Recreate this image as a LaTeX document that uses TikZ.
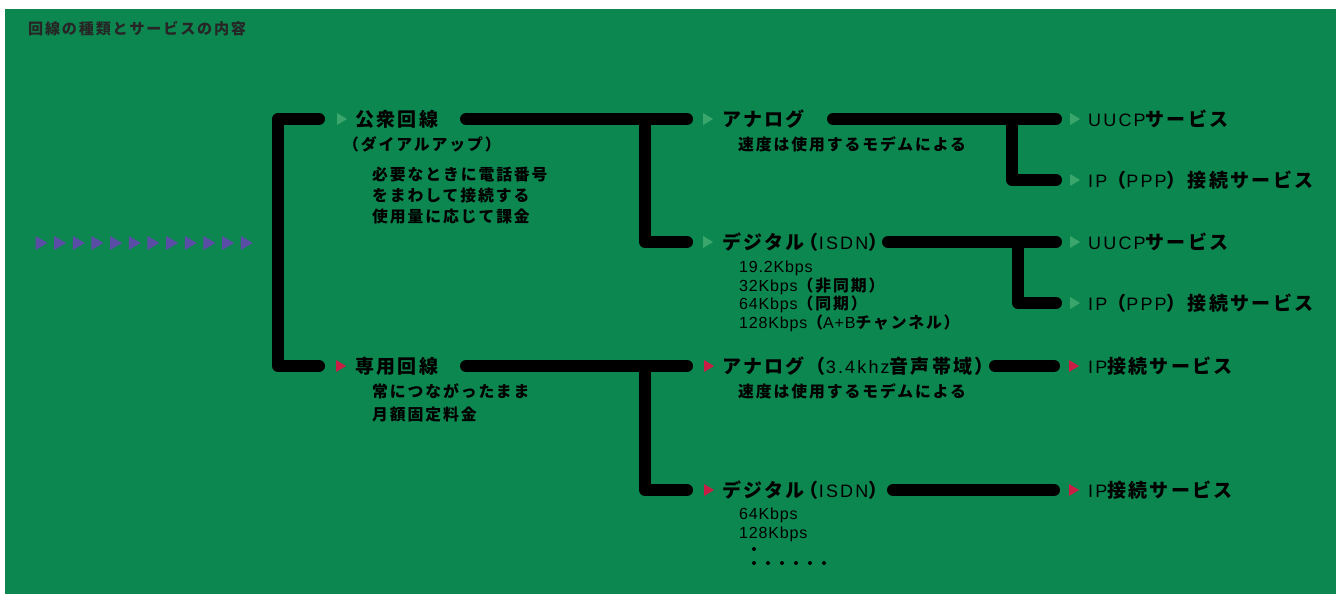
\documentclass[tikz,border=0pt]{standalone}
\usepackage{fontspec}
\setmainfont{Liberation Sans}[LetterSpace=12]
\newfontfamily\subl{Liberation Sans}[LetterSpace=5,Scale=1.07]
\newfontfamily\jpf{Noto Sans CJK JP}[LetterSpace=12,Scale=1.055]
\newcommand\jb[1]{{\jpf\bfseries #1}}
\definecolor{bg}{HTML}{0D8750}
\definecolor{mkg}{HTML}{3AA66B}
\definecolor{mkr}{HTML}{C81E45}
\definecolor{mkp}{HTML}{5A4DA6}
\definecolor{ttl}{HTML}{262626}
\begin{document}
\begin{tikzpicture}[x=1pt,y=-1pt,
  wire/.style={line width=12pt,line cap=round,line join=round},
  lbl/.style={anchor=west,inner sep=0pt,font=\fontsize{18}{20}\selectfont},
  sub/.style={anchor=west,inner sep=0pt,font=\subl\fontsize{15}{17}\selectfont},
  pics/tri/.style={code={\fill[#1] (0,-6) -- (10,0) -- (0,6) -- cycle;}},
  pics/ptri/.style={code={\fill[#1] (0,-7) -- (12,0) -- (0,7) -- cycle;}},
]
\fill[white] (0,0) rectangle (1337,594);
\fill[bg] (5,9) rectangle (1336,594);
\useasboundingbox (0,0) rectangle (1337,594);

% title
\node[anchor=west,inner sep=0pt,text=ttl,font=\fontsize{14.3}{16}\selectfont] (title) at (28,29) {\jb{回線の種類とサービスの内容}};

% purple arrows
\foreach \i in {0,...,11} \pic at ({35.5+18.66*\i},243) {ptri=mkp};

% level 1
\pic at (337,119) {tri=mkg};
\node[lbl] (kosyu) at (355,119) {\jb{公衆回線}};
\node[sub] (dial) at (343,144) {\jb{（ダイアルアップ）}};
\node[sub] (k1) at (372,175) {\jb{必要なときに電話番号}};
\node[sub] (k2) at (372,196) {\jb{をまわして接続する}};
\node[sub] (k3) at (372,216) {\jb{使用量に応じて課金}};

\pic at (336,366) {tri=mkr};
\node[lbl] (senyo) at (355,366) {\jb{専用回線}};
\node[sub] (s1) at (372,391) {\jb{常につながったまま}};
\node[sub] (s2) at (372,415) {\jb{月額固定料金}};

% level 2
\pic at (703,119) {tri=mkg};
\node[lbl] (an1) at (722,119) {\jb{アナログ}};
\node[sub] (an1s) at (738,144) {\jb{速度は使用するモデムによる}};

\pic at (703,242) {tri=mkg};
\node[lbl] (dg1) at (722,242) {\jb{デジタル\kern-0.25em（}ISDN\jb{）}};
\node[sub] (d11) at (739,268) {19.2Kbps};
\node[sub] (d12) at (739,286) {32Kbps\jb{（非同期）}};
\node[sub] (d13) at (739,304) {64Kbps\jb{（同期）}};
\node[sub] (d14) at (739,323) {128Kbps\jb{（}A+B\jb{チャンネル）}};

\pic at (704,366) {tri=mkr};
\node[lbl] (an2) at (722,366) {\jb{アナログ（}3.4khz\jb{音声帯域）}};
\node[sub] (an2s) at (738,391) {\jb{速度は使用するモデムによる}};

\pic at (704,490) {tri=mkr};
\node[lbl] (dg2) at (722,490) {\jb{デジタル\kern-0.25em（}ISDN\jb{）}};
\node[sub] (d21) at (739,515) {64Kbps};
\node[sub] (d22) at (739,534) {128Kbps};
\fill (754,549) circle (2);
\foreach \i in {0,...,5} \fill ({754+14*\i},563) circle (2);

% level 3
\pic at (1070,119) {tri=mkg};
\node[lbl] (r1) at (1088,119) {UUCP\jb{サービス}};
\pic at (1070,180) {tri=mkg};
\node[lbl] (r2) at (1088,180) {IP\jb{（}PPP\jb{）接続サービス}};
\pic at (1070,242) {tri=mkg};
\node[lbl] (r3) at (1088,242) {UUCP\jb{サービス}};
\pic at (1070,303) {tri=mkg};
\node[lbl] (r4) at (1088,303) {IP\jb{（}PPP\jb{）接続サービス}};
\pic at (1069,366) {tri=mkr};
\node[lbl] (r5) at (1088,366) {IP\jb{接続サービス}};
\pic at (1069,490) {tri=mkr};
\node[lbl] (r6) at (1088,490) {IP\jb{接続サービス}};

% connector coordinates
\coordinate (b0t) at (319,119);
\coordinate (b0c1) at (278,119);
\coordinate (b0c2) at (278,366);
\coordinate (b0b) at (319,366);

\coordinate (a1s) at (466,119);
\coordinate (a1e) at (687,119);
\coordinate (a1j) at (645,119);
\coordinate (a1c) at (645,242);
\coordinate (a1d) at (687,242);

\coordinate (b1s) at (466,366);
\coordinate (b1e) at (687,366);
\coordinate (b1j) at (645,366);
\coordinate (b1c) at (645,490);
\coordinate (b1d) at (687,490);

\coordinate (c1s) at (833,119);
\coordinate (c1e) at (1056,119);
\coordinate (c1j) at (1012,119);
\coordinate (c1c) at (1012,180);
\coordinate (c1d) at (1056,180);

\coordinate (c2s) at (888,242);
\coordinate (c2e) at (1056,242);
\coordinate (c2j) at (1018,242);
\coordinate (c2c) at (1018,303);
\coordinate (c2d) at (1056,303);

\coordinate (c3s) at (995,366);
\coordinate (c3e) at (1054,366);
\coordinate (c4s) at (893,490);
\coordinate (c4e) at (1054,490);

\draw[wire] (b0t) -- (b0c1) -- (b0c2) -- (b0b);
\draw[wire] (a1s) -- (a1e);
\draw[wire] (a1j) -- (a1c) -- (a1d);
\draw[wire] (b1s) -- (b1e);
\draw[wire] (b1j) -- (b1c) -- (b1d);
\draw[wire] (c1s) -- (c1e);
\draw[wire] (c1j) -- (c1c) -- (c1d);
\draw[wire] (c2s) -- (c2e);
\draw[wire] (c2j) -- (c2c) -- (c2d);
\draw[wire] (c3s) -- (c3e);
\draw[wire] (c4s) -- (c4e);
\end{tikzpicture}
\end{document}
